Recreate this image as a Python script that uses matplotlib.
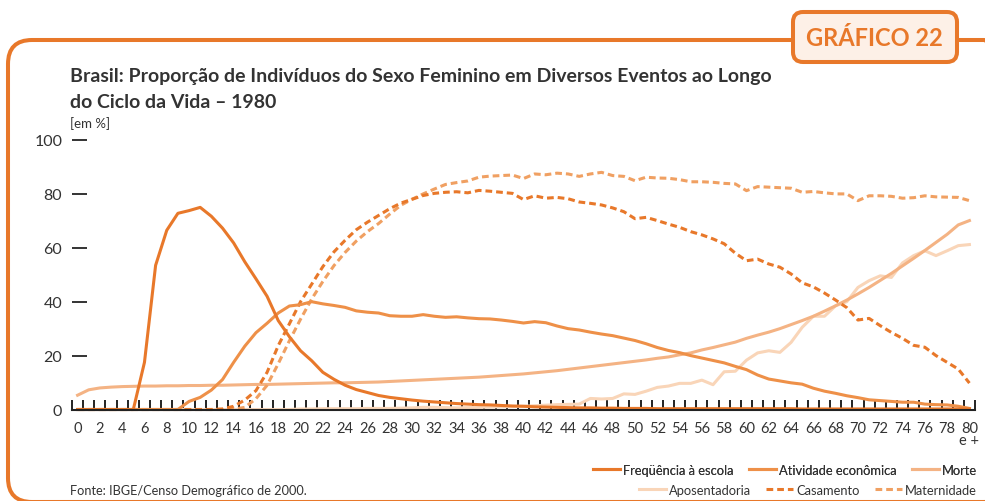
import matplotlib
matplotlib.use('Agg')
import matplotlib.pyplot as plt
from matplotlib.patches import FancyBboxPatch
from matplotlib.transforms import IdentityTransform
import numpy as np

plt.rcParams['font.family'] = ['Lato', 'DejaVu Sans']

# idades 0 .. 80 e +
idades = list(range(81))

frequencia = [0, 0, 0, 0, 0, 0, 17.5, 53.5, 66.5, 72.8,
              73.8, 75.0, 71.7, 67.3, 61.8, 54.8, 48.5, 42.0, 33.0, 27.0,
              21.8, 18.1, 13.8, 11.2, 9.0, 7.4, 6.3, 5.2, 4.5, 4.0,
              3.5, 3.1, 2.8, 2.5, 2.2, 2.0, 1.8, 1.7, 1.5, 1.3,
              1.2, 1.0, 0.9, 0.8, 0.7, 0.6, 0.6, 0.5, 0.5, 0.4,
              0.4, 0.4, 0.3, 0.3, 0.3, 0.3, 0.3, 0.3, 0.3, 0.3,
              0.3, 0.3, 0.3, 0.3, 0.3, 0.2, 0.2, 0.2, 0.2, 0.2,
              0.2, 0.2, 0.2, 0.2, 0.2, 0.2, 0.2, 0.2, 0.2, 0.2,
              0.2]

atividade = [0, 0, 0, 0, 0, 0, 0, 0, 0, 0,
             3.0, 4.5, 7.2, 11.1, 17.5, 23.5, 28.5, 32.0, 35.8, 38.4,
             38.9, 40.0, 39.2, 38.6, 37.9, 36.6, 36.1, 35.8, 34.8, 34.6,
             34.6, 35.2, 34.6, 34.2, 34.4, 34.0, 33.7, 33.6, 33.2, 32.7,
             32.1, 32.6, 32.2, 31.0, 30.0, 29.5, 28.7, 28.0, 27.4, 26.5,
             25.6, 24.4, 23.0, 21.9, 21.1, 20.0, 19.1, 18.2, 17.3, 16.0,
             14.8, 12.8, 11.3, 10.6, 9.9, 9.4, 7.9, 6.8, 6.0, 5.1,
             4.4, 3.6, 3.3, 3.0, 2.7, 2.7, 2.0, 1.8, 1.7, 1.2,
             0.4]

morte = [5.3, 7.3, 8.0, 8.3, 8.5, 8.6, 8.7, 8.7, 8.8, 8.8,
         8.9, 8.9, 9.0, 9.0, 9.1, 9.2, 9.3, 9.3, 9.4, 9.5,
         9.6, 9.7, 9.8, 9.9, 9.9, 10.0, 10.1, 10.2, 10.4, 10.6,
         10.8, 11.0, 11.2, 11.4, 11.6, 11.8, 12.0, 12.3, 12.6, 12.9,
         13.2, 13.6, 14.0, 14.4, 14.9, 15.4, 15.9, 16.4, 16.9, 17.4,
         17.9, 18.4, 19.0, 19.5, 20.3, 21.0, 22.1, 23.0, 24.0, 25.0,
         26.4, 27.6, 28.7, 30.0, 31.5, 33.0, 34.6, 36.5, 38.5, 40.6,
         42.9, 45.3, 47.9, 50.5, 53.3, 56.1, 59.0, 62.0, 65.0, 68.5,
         70.1]

aposentadoria = [0, 0, 0, 0, 0, 0, 0, 0, 0, 0,
                 0, 0, 0, 0, 0, 0, 0, 0, 0, 0,
                 0.2, 0.2, 0.3, 0.3, 0.3, 0.3, 0.4, 0.4, 0.4, 0.5,
                 0.6, 0.8, 0.8, 0.7, 0.6, 0.7, 0.8, 0.9, 1.0, 1.1,
                 1.2, 1.4, 1.6, 1.8, 1.9, 2.0, 4.1, 3.9, 4.1, 5.8,
                 5.6, 6.8, 8.2, 8.7, 9.7, 9.7, 10.9, 9.2, 14.0, 14.2,
                 18.3, 21.0, 21.8, 21.2, 24.9, 30.5, 34.6, 34.6, 38.5, 40.0,
                 45.3, 47.8, 49.6, 49.0, 54.4, 57.1, 58.9, 57.1, 58.9, 60.8,
                 61.2]

casamento = [0, 0, 0, 0, 0, 0, 0, 0, 0, 0,
             0, 0, 0, 0.2, 1.2, 3.5, 7.0, 13.8, 23.7, 31.8,
             40.0, 46.5, 53.0, 58.5, 62.8, 66.7, 69.5, 72.0, 74.5, 76.6,
             78.0, 79.4, 80.2, 80.6, 80.8, 80.4, 81.3, 81.0, 80.6, 80.2,
             77.9, 79.3, 78.4, 78.7, 78.2, 77.0, 76.5, 75.9, 74.8, 73.4,
             70.8, 71.3, 70.1, 68.8, 67.6, 66.0, 64.8, 63.3, 61.5, 58.0,
             55.2, 55.8, 54.0, 52.8, 50.3, 47.0, 45.5, 43.2, 40.6, 37.8,
             33.2, 33.8, 31.1, 28.6, 26.4, 23.8, 23.1, 20.0, 17.5, 15.0,
             9.8]

maternidade = [0, 0, 0, 0, 0, 0, 0, 0, 0, 0,
               0, 0, 0, 0, 0.1, 0.8, 4.0, 9.0, 17.0, 25.5,
               33.5, 41.0, 47.5, 53.4, 58.3, 62.5, 66.0, 69.0, 72.5, 75.8,
               78.0, 80.0, 81.8, 83.5, 84.2, 84.8, 86.2, 86.6, 86.8, 87.0,
               85.7, 87.4, 87.1, 87.7, 87.4, 86.5, 87.4, 88.0, 86.8, 86.5,
               84.9, 86.2, 85.9, 85.8, 85.3, 84.5, 84.5, 84.3, 83.9, 83.7,
               81.2, 82.7, 82.5, 82.3, 82.1, 80.6, 80.9, 80.4, 80.0, 80.0,
               77.5, 79.3, 79.3, 79.1, 78.4, 78.6, 79.3, 78.9, 78.8, 78.7,
               77.5]

x_labels = [str(i) for i in range(0, 80, 2)] + ['80\ne +']

LARANJA = '#E8782A'
TEXTO = '#333333'
W, H = 985, 502


def main():
	fig = plt.figure(figsize=(W / 100, H / 100), dpi=100)

	# moldura arredondada
	moldura = FancyBboxPatch((8, -1), 1000, 462, boxstyle='round,pad=0,rounding_size=24',
	                         transform=IdentityTransform(), facecolor='none',
	                         edgecolor=LARANJA, linewidth=2.9, zorder=0)
	fig.patches.append(moldura)
	selo = FancyBboxPatch((793, H - 63), 164, 50, boxstyle='round,pad=0,rounding_size=10',
	                      transform=IdentityTransform(), facecolor='#FDF0E7',
	                      edgecolor=LARANJA, linewidth=2.9, zorder=1)
	fig.patches.append(selo)
	fig.text(874 / W, 1 - 38 / H, 'GRÁFICO 22', ha='center', va='center',
	         fontsize=17, fontweight='bold', color=LARANJA)

	fig.text(70 / W, 1 - 82 / H,
	         'Brasil: Proporção de Indivíduos do Sexo Feminino em Diversos Eventos ao Longo',
	         ha='left', va='baseline', fontsize=14, fontweight='bold', color=TEXTO)
	fig.text(70 / W, 1 - 107.5 / H, 'do Ciclo da Vida – 1980',
	         ha='left', va='baseline', fontsize=14, fontweight='bold', color=TEXTO)
	fig.text(70 / W, 1 - 124 / H, '[em %]', ha='left', va='center', fontsize=9.5, color=TEXTO)
	fig.text(70 / W, 1 - 491 / H, 'Fonte: IBGE/Censo Demográfico de 2000.',
	         ha='left', va='center', fontsize=9.2, color=TEXTO)

	ax = fig.add_axes([72 / W, (H - 410.5) / H, 903 / W, 269.5 / H])
	ax.patch.set_alpha(0)

	lw = 2.2
	la, = ax.plot(idades, aposentadoria, color='#F9D5B8', lw=lw, clip_on=False)
	lm, = ax.plot(idades, morte, color='#F4B384', lw=lw, clip_on=False)
	lmat, = ax.plot(idades, maternidade, color='#F0A062', lw=lw, dashes=(2.2, 1.3), clip_on=False)
	lc, = ax.plot(idades, casamento, color=LARANJA, lw=lw, dashes=(2.2, 1.3), clip_on=False)
	lat, = ax.plot(idades, atividade, color='#EE9048', lw=lw, clip_on=False)
	lf, = ax.plot(idades, frequencia, color=LARANJA, lw=lw, clip_on=False)

	ax.set_xlim(-0.5, 80.5)
	ax.set_ylim(0, 100)
	for s in ['top', 'right', 'left']:
		ax.spines[s].set_visible(False)
	ax.spines['bottom'].set_color('#222222')
	ax.spines['bottom'].set_linewidth(1.5)

	# régua do eixo x: riscos entre as idades, rótulos nas idades pares
	ax.set_xticks(np.arange(-0.5, 81, 1))
	ax.set_xticklabels([''] * 82)
	ax.tick_params(axis='x', which='major', direction='in', length=7, width=1.4,
	               color='#222222', zorder=5)
	ax.set_xticks(range(0, 81, 2), minor=True)
	ax.set_xticklabels(x_labels, minor=True, fontsize=10.5, color=TEXTO, linespacing=0.85, va='top')
	ax.tick_params(axis='x', which='minor', length=0, pad=8)

	ax.set_yticks(range(0, 101, 20))
	ax.set_yticklabels([str(v) for v in range(0, 101, 20)], fontsize=11.5, color=TEXTO)
	ax.tick_params(axis='y', direction='in', length=10.5, width=1.4, color=TEXTO, pad=7)
	ax.yaxis.get_major_ticks()[0].tick1line.set_visible(False)

	# legenda em duas linhas alinhadas à direita
	kw = dict(frameon=False, ncol=3, loc='center right', fontsize=9.3, handlelength=2.1,
	          handletextpad=0.25, columnspacing=1.15, borderpad=0, borderaxespad=0,
	          labelcolor=TEXTO)
	leg1 = fig.legend([lf, lat, lm], ['Freqüência à escola', 'Atividade econômica', 'Morte'],
	                  bbox_to_anchor=(977 / W, 1 - 471 / H), **kw)
	fig.legend([la, lc, lmat], ['Aposentadoria', 'Casamento', 'Maternidade'],
	           bbox_to_anchor=(977 / W, 1 - 491 / H), **kw)
	fig.add_artist(leg1)

	fig.savefig('out.png', dpi=100)


if __name__ == '__main__':
	main()
